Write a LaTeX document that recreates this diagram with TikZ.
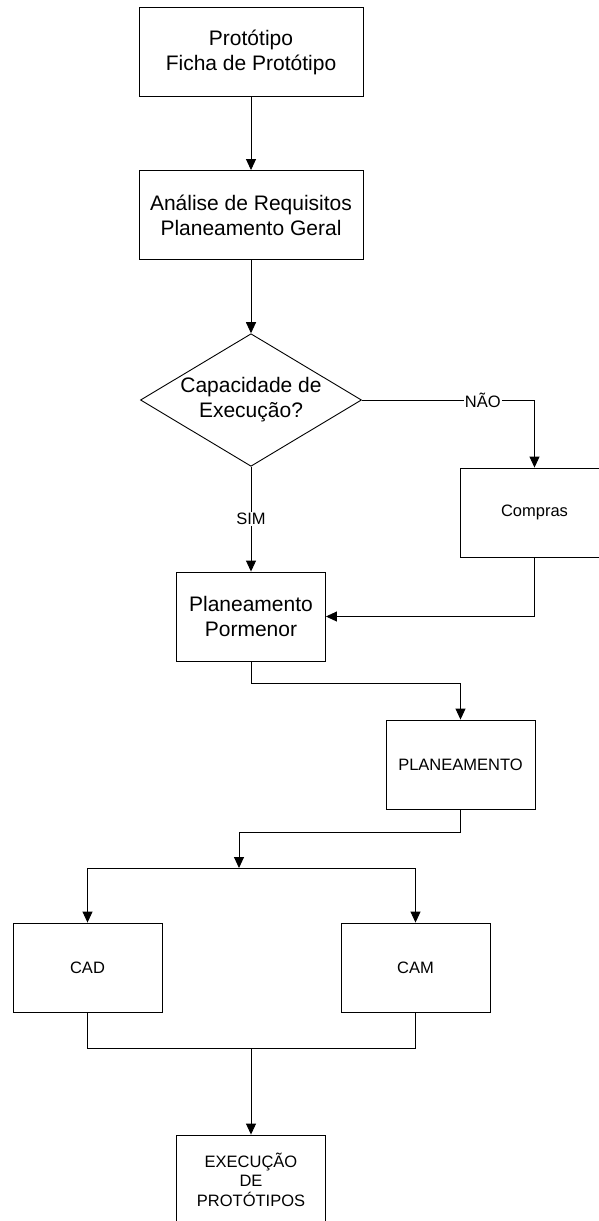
\documentclass[tikz,border=0pt]{standalone}
\usepackage{fontspec}
\setmainfont{Liberation Sans}
\usetikzlibrary{shapes.geometric,arrows.meta}
\begin{document}
\begin{tikzpicture}[
  x=1pt, y=-1pt,
  line width=0.9pt,
  bigbox/.style={rectangle, draw, minimum width=224pt, minimum height=89pt, font=\fontsize{21}{25}\selectfont, align=center},
  block/.style={rectangle, draw, minimum width=149pt, minimum height=89pt, font=\fontsize{16.5}{19.5}\selectfont, align=center},
  decision/.style={diamond, draw, shape aspect=1.667, inner sep=1pt, font=\fontsize{21}{25}\selectfont, align=center},
  answer/.style={fill=white, inner sep=1pt, font=\fontsize{16.5}{19.5}\selectfont},
  flow/.style={-{Triangle[length=11pt,width=10pt]}}
]
\useasboundingbox (0,0) rectangle (598,1221);

\node[bigbox] (proto) at (251,52) {Protótipo\\Ficha de Protótipo};
\node[bigbox, below of=proto, node distance=163pt] (req) {Análise de Requisitos\\Planeamento Geral};
\node[decision, below of=req, node distance=185pt] (cap) {Capacidade de\\Execução?};
\node[block, font=\fontsize{21}{25}\selectfont, below of=cap, node distance=216.5pt] (pormenor) {Planeamento\\Pormenor};
\node[block, minimum width=148pt] (compras) at (534.5,512.5) {Compras};
\node[block] (plan) at (460.5,764.5) {PLANEAMENTO};
\node[block] (cad) at (87.5,967.5) {CAD};
\node[block] (cam) at (415.5,967.5) {CAM};
\node[block, below of=pormenor, node distance=563pt] (exec) {EXECUÇÃO\\DE\\PROTÓTIPOS};

\coordinate (split) at (239,868);
\coordinate (merge) at (251,1048);

\draw[flow] (proto) -- (req);
\draw[flow] (req) -- (cap);
\draw[flow] (cap.east) -| node[answer, pos=0.35] {NÃO} (compras.north);
\draw[flow] (cap.south) -- node[answer] {SIM} (pormenor.north);
\draw[flow] (compras.south) |- (pormenor.east);
\draw[flow] (pormenor.south) -- ++(0,22) -| (plan.north);
\draw[flow] (plan.south) -- ++(0,23) -| (split);
\draw[flow] (split) -| (cad.north);
\draw[flow] (split) -| (cam.north);
\draw (cad.south) |- (merge);
\draw (cam.south) |- (merge);
\draw[flow] (merge) -- (exec.north);
\end{tikzpicture}
\end{document}
